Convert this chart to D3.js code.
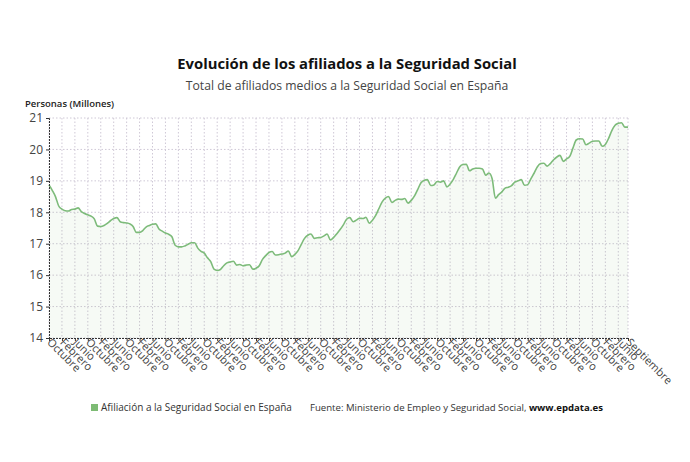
<!DOCTYPE html>
<html><head><meta charset="utf-8">
<script src="https://cdn.jsdelivr.net/npm/d3@7"></script>
<style>body{margin:0;background:#fff;font-family:"Open Sans",sans-serif;}</style>
</head><body><svg id="c" width="690" height="462"></svg>
<script>
const monthNames = ["Enero","Febrero","Marzo","Abril","Mayo","Junio","Julio","Agosto","Septiembre","Octubre","Noviembre","Diciembre"];
const startYear = 2008, startMonth = 9; // Octubre 2008
const values = [
18.87,18.70,18.50,
18.20,18.10,18.05,18.04,18.09,18.10,18.14,18.02,17.96,17.92,17.88,17.79,
17.56,17.55,17.58,17.65,17.73,17.80,17.83,17.70,17.67,17.66,17.63,17.55,
17.36,17.36,17.42,17.53,17.58,17.62,17.63,17.47,17.40,17.34,17.30,17.22,
16.95,16.90,16.90,16.93,16.98,17.03,17.03,16.86,16.76,16.70,16.55,16.43,
16.19,16.15,16.18,16.30,16.39,16.42,16.44,16.32,16.34,16.30,16.32,16.33,
16.19,16.22,16.30,16.50,16.62,16.72,16.75,16.64,16.65,16.67,16.70,16.77,
16.59,16.66,16.78,16.98,17.17,17.27,17.31,17.17,17.19,17.20,17.25,17.31,
17.12,17.20,17.32,17.45,17.60,17.78,17.83,17.70,17.75,17.81,17.80,17.84,
17.65,17.75,17.90,18.12,18.33,18.45,18.50,18.31,18.38,18.42,18.41,18.44,
18.29,18.38,18.52,18.73,18.94,19.02,19.04,18.85,18.87,18.98,18.96,19.00,
18.81,18.90,19.05,19.25,19.45,19.52,19.53,19.32,19.38,19.40,19.40,19.38,
19.18,19.25,19.07,18.45,18.56,18.65,18.77,18.80,18.85,18.96,19.00,19.04,
18.86,18.88,19.07,19.25,19.45,19.55,19.56,19.47,19.55,19.67,19.76,19.81,
19.62,19.70,19.78,20.05,20.30,20.34,20.33,20.15,20.20,20.26,20.27,20.27,
20.10,20.16,20.35,20.60,20.77,20.83,20.85,20.71,20.71
];
const yTicks = [14,15,16,17,18,19,20,21];
const title = "Evolución de los afiliados a la Seguridad Social";
const subtitle = "Total de afiliados medios a la Seguridad Social en España";
const yLabel = "Personas (Millones)";
const seriesName = "Afiliación a la Seguridad Social en España";

const data = values.map((v,i)=>{
  const m = (startMonth + i) % 12;
  const y = startYear + Math.floor((startMonth + i)/12);
  return {key: y+"-"+m, month: monthNames[m], value: v, i};
});
const tickData = data.filter(d => d.i % 4 === 0 || d.i === data.length-1);

const svg = d3.select("#c");
const L = 49, R = 628, T = 118, B = 338;
const x = d3.scalePoint().domain(data.map(d=>d.key)).range([L,R]);
const y = d3.scaleLinear().domain([14,21]).range([B,T]);

svg.append("text").attr("x",347).attr("y",69).attr("text-anchor","middle")
  .attr("font-size",14.8).attr("font-weight",700).attr("fill","#111").text(title);
svg.append("text").attr("x",347).attr("y",90).attr("text-anchor","middle")
  .attr("font-size",12.2).attr("fill","#444").text(subtitle);
svg.append("text").attr("x",25).attr("y",107).attr("font-size",9.5).attr("font-weight",600)
  .attr("fill","#222").text(yLabel);

// grid
const grid = svg.append("g");
grid.selectAll(".h").data(yTicks).join("line")
  .attr("x1",L).attr("x2",R).attr("y1",d=>y(d)).attr("y2",d=>y(d))
  .attr("stroke","#cfc8d6").attr("stroke-dasharray","1.5,2");
grid.selectAll(".v").data(tickData).join("line")
  .attr("x1",d=>x(d.key)).attr("x2",d=>x(d.key)).attr("y1",T).attr("y2",B)
  .attr("stroke","#cfc8d6").attr("stroke-dasharray","1.5,2");

// area + line
svg.append("path").datum(data)
  .attr("d", d3.area().x(d=>x(d.key)).y0(y(14)).y1(d=>y(d.value)).curve(d3.curveMonotoneX))
  .attr("fill","#7dbb74").attr("fill-opacity",0.07);
svg.append("path").datum(data)
  .attr("d", d3.line().x(d=>x(d.key)).y(d=>y(d.value)).curve(d3.curveMonotoneX))
  .attr("fill","none").attr("stroke","#7dbb7a").attr("stroke-width",1.6);

// y axis
const ya = svg.append("g").attr("transform",`translate(${L},0)`)
  .call(d3.axisLeft(y).tickValues(yTicks).tickSize(3).tickFormat(d3.format("d")));
ya.select(".domain").attr("stroke","#333").attr("stroke-dasharray","2,1");
ya.selectAll(".tick line").attr("stroke","#333");
ya.selectAll("text").attr("font-size",12).attr("fill","#444").attr("font-family","Open Sans");

// x axis
const xa = svg.append("g").attr("transform",`translate(0,${B})`)
  .call(d3.axisBottom(x).tickValues(tickData.map(d=>d.key)).tickSize(3)
    .tickFormat(k=>data.find(d=>d.key===k).month));
xa.select(".domain").attr("stroke","#333").attr("stroke-dasharray","2,1");
xa.selectAll(".tick line").attr("stroke","#333");
xa.selectAll("text").attr("font-size",11).attr("fill","#444").attr("font-family","Open Sans")
  .attr("text-anchor","start").attr("dy",0).attr("y",0)
  .attr("transform","translate(-3,5) rotate(45)");

// legend
const lg = svg.append("g");
lg.append("rect").attr("x",91).attr("y",404).attr("width",7).attr("height",7).attr("fill","#7dbb74");
lg.append("text").attr("x",101).attr("y",411).attr("font-size",10).attr("fill","#333").text(seriesName);
const src = lg.append("text").attr("x",310).attr("y",411).attr("font-size",9.6).attr("fill","#333");
src.append("tspan").text("Fuente: Ministerio de Empleo y Seguridad Social, ");
src.append("tspan").attr("font-weight",700).attr("fill","#111").text("www.epdata.es");
</script></body></html>
